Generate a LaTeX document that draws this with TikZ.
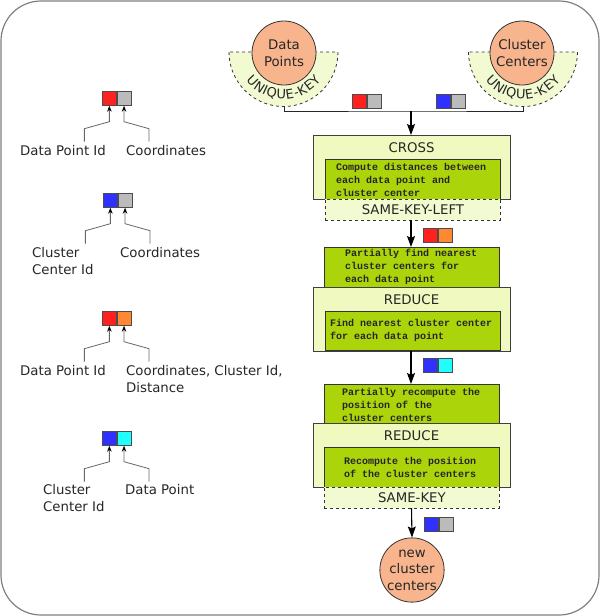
\documentclass[tikz,border=0pt]{standalone}
\usepackage{fontspec}
\setmainfont{DejaVu Sans}
\newfontfamily\monof{Liberation Mono}
\usetikzlibrary{decorations.text,arrows.meta}
\definecolor{salmon}{RGB}{248,180,140}
\definecolor{lightyel}{RGB}{240,250,192}
\definecolor{semiyel}{RGB}{242,250,210}
\definecolor{boxgreen}{RGB}{172,212,10}
\definecolor{kred}{RGB}{255,32,32}
\definecolor{kgray}{RGB}{187,187,187}
\definecolor{kblue}{RGB}{48,48,255}
\definecolor{korange}{RGB}{255,136,51}
\definecolor{kcyan}{RGB}{32,255,255}
\begin{document}
\begin{tikzpicture}[x=1pt,y=-1pt,
  lbl/.style={font=\fontsize{13.3}{17}\selectfont, inner sep=0, text=black!85},
  mono/.style={font=\monof\bfseries\fontsize{10}{13}\selectfont, inner sep=0, align=left, anchor=west, text=black!85},
  circ/.style={circle, draw=black!80, fill=salmon, minimum size=64pt, inner sep=0, align=center, font=\fontsize{13.3}{16.5}\selectfont, line width=0.8pt, text=black!85},
  outerbox/.style={draw=black!75, fill=lightyel, minimum width=197pt, minimum height=64pt, inner sep=0, line width=0.8pt, anchor=north west},
  greenbox/.style={draw=black!80, fill=boxgreen, minimum width=175pt, minimum height=40pt, inner sep=0, line width=0.8pt, anchor=north west},
  dashbox/.style={draw=black!80, dashed, fill=semiyel, minimum width=175pt, minimum height=21pt, inner sep=0, line width=0.8pt, anchor=north west},
  keysq/.style={draw=black!70, minimum size=14pt, inner sep=0, line width=0.7pt},
  bigarrow/.style={draw=black, line width=1.1pt, -{Stealth[length=11pt,width=8pt,inset=2pt]}},
  conn/.style={draw=black!85, line width=0.9pt},
  legline/.style={draw=black!60, line width=0.8pt, {Stealth[length=6pt,width=4.5pt,black]}-},
  semi/.style={dashed, draw=black!80, fill=semiyel, line width=0.8pt},
  ukey/.style={decorate, decoration={text along path, text align=center,
    text={|\fontsize{13}{13}\selectfont\color{black!85}|{U\kern0.7pt}{N\kern0.7pt}{I\kern0.7pt}{Q\kern0.7pt}{U\kern0.7pt}{E\kern0.7pt}{-\kern0.7pt}{K\kern0.7pt}{E\kern0.7pt}{Y}}}},
]
\useasboundingbox (0,0) rectangle (600,616);
\draw[draw=black!50, line width=1.2pt, rounded corners=40pt] (1,1) rectangle (599,615);

\newcommand\keypair[5]{%
  \node[keysq, fill=#4, anchor=north west] (#1a) at (#2,#3) {};
  \node[keysq, fill=#5, anchor=west] (#1b) at (#1a.east) {};}

% ---- top sources
\draw[semi] (229,52) arc[start angle=180, end angle=0, radius=54.5] -- cycle;
\path[ukey] (283.5,52) ++(158:47) arc[start angle=158, end angle=22, radius=47];
\node[circ] (dp) at (284,53) {Data\\Points};
\coordinate (dpk) at (284,106.5);

\draw[semi] (468.5,52) arc[start angle=180, end angle=0, radius=54.5] -- cycle;
\path[ukey] (523,52) ++(158:47) arc[start angle=158, end angle=22, radius=47];
\node[circ] (cc) at (522,53) {Cluster\\Centers};
\coordinate (cck) at (523,106.5);

\coordinate (jn) at (411,111);
\draw[conn] (dpk) |- (jn) -| (cck);
\keypair{t1}{352}{94}{kred}{kgray}
\keypair{t2}{436}{94}{kblue}{kgray}

% ---- CROSS
\node[outerbox] (cross) at (313,135) {};
\draw[bigarrow] (jn) -- (jn |- cross.north);
\node[lbl] (crosslbl) at (411.5,148) {CROSS};
\node[greenbox] (crossin) at (325,159) {};
\node[mono] (crosstxt) at (336,180) {Compute distances between\\each data point and\\cluster center};
\node[dashbox] (skl) at (325,199) {};
\node[lbl] (skllbl) at (skl.center) {SAME-KEY-LEFT};

% ---- partial find
\node[greenbox, minimum height=41pt] (pf) at (324,247) {};
\node[mono] (pftxt) at (345,267) {Partially find nearest\\cluster centers for\\each data point};
\draw[bigarrow] (411,220) -- (411,247);
\keypair{k1}{423}{228}{kred}{korange}

% ---- REDUCE 1
\node[outerbox] (red1) at (313,287) {};
\node[lbl] (red1lbl) at (411.5,300) {REDUCE};
\node[greenbox, minimum height=39pt] (red1in) at (325,311) {};
\node[mono] (red1txt) at (330,330.5) {Find nearest cluster center\\for each data point};

% ---- partial recompute
\node[greenbox] (pr) at (324,384) {};
\node[mono] (prtxt) at (342,405) {Partially recompute the\\position of the\\cluster centers};
\draw[bigarrow] (411,351) -- (411,384);
\keypair{k2}{423}{358}{kblue}{kcyan}

% ---- REDUCE 2
\node[outerbox] (red2) at (313,423) {};
\node[lbl] (red2lbl) at (411.5,436) {REDUCE};
\node[greenbox] (red2in) at (324,447) {};
\node[mono] (red2txt) at (344,467) {Recompute the position\\of the cluster centers};
\node[dashbox] (sk) at (324,487) {};
\node[lbl] (sklbl) at (sk.center) {SAME-KEY};

% ---- result
\node[circ] (ncc) at (412,570) {new\\cluster\\centers};
\draw[bigarrow] (411.5,508) -- (ncc.north);
\keypair{k3}{424}{517}{kblue}{kgray}

% ---- legend
\keypair{l1}{102}{91}{kred}{kgray}
\draw[legline] (l1a.south) -- ++(0,16) -- ++(-25,7) -- ++(0,13);
\draw[legline] (l1b.south) -- ++(0,16) -- ++(25,7) -- ++(0,13);
\node[lbl] (l1t1) at (63,151) {Data Point Id};
\node[lbl, anchor=west] (l1t2) at (126,151) {Coordinates};

\keypair{l2}{103}{193}{kblue}{kgray}
\draw[legline] (l2a.south) -- ++(0,16) -- ++(-25,7) -- ++(0,13);
\draw[legline] (l2b.south) -- ++(0,16) -- ++(25,7) -- ++(0,13);
\node[lbl, anchor=west, align=left] (l2t1) at (32,261.5) {Cluster\\Center Id};
\node[lbl, anchor=west] (l2t2) at (120,253) {Coordinates};

\keypair{l3}{102}{311}{kred}{korange}
\draw[legline] (l3a.south) -- ++(0,16) -- ++(-25,7) -- ++(0,13);
\draw[legline] (l3b.south) -- ++(0,16) -- ++(25,7) -- ++(0,13);
\node[lbl] (l3t1) at (63,371) {Data Point Id};
\node[lbl, anchor=west, align=left] (l3t2) at (126,379.5) {Coordinates, Cluster Id,\\Distance};

\keypair{l4}{102}{431}{kblue}{kcyan}
\draw[legline] (l4a.south) -- ++(0,16) -- ++(-25,7) -- ++(0,13);
\draw[legline] (l4b.south) -- ++(0,16) -- ++(25,7) -- ++(0,13);
\node[lbl, anchor=west, align=left] (l4t1) at (43,498.5) {Cluster\\Center Id};
\node[lbl, anchor=west] (l4t2) at (125,490) {Data Point};
\end{tikzpicture}
\end{document}
